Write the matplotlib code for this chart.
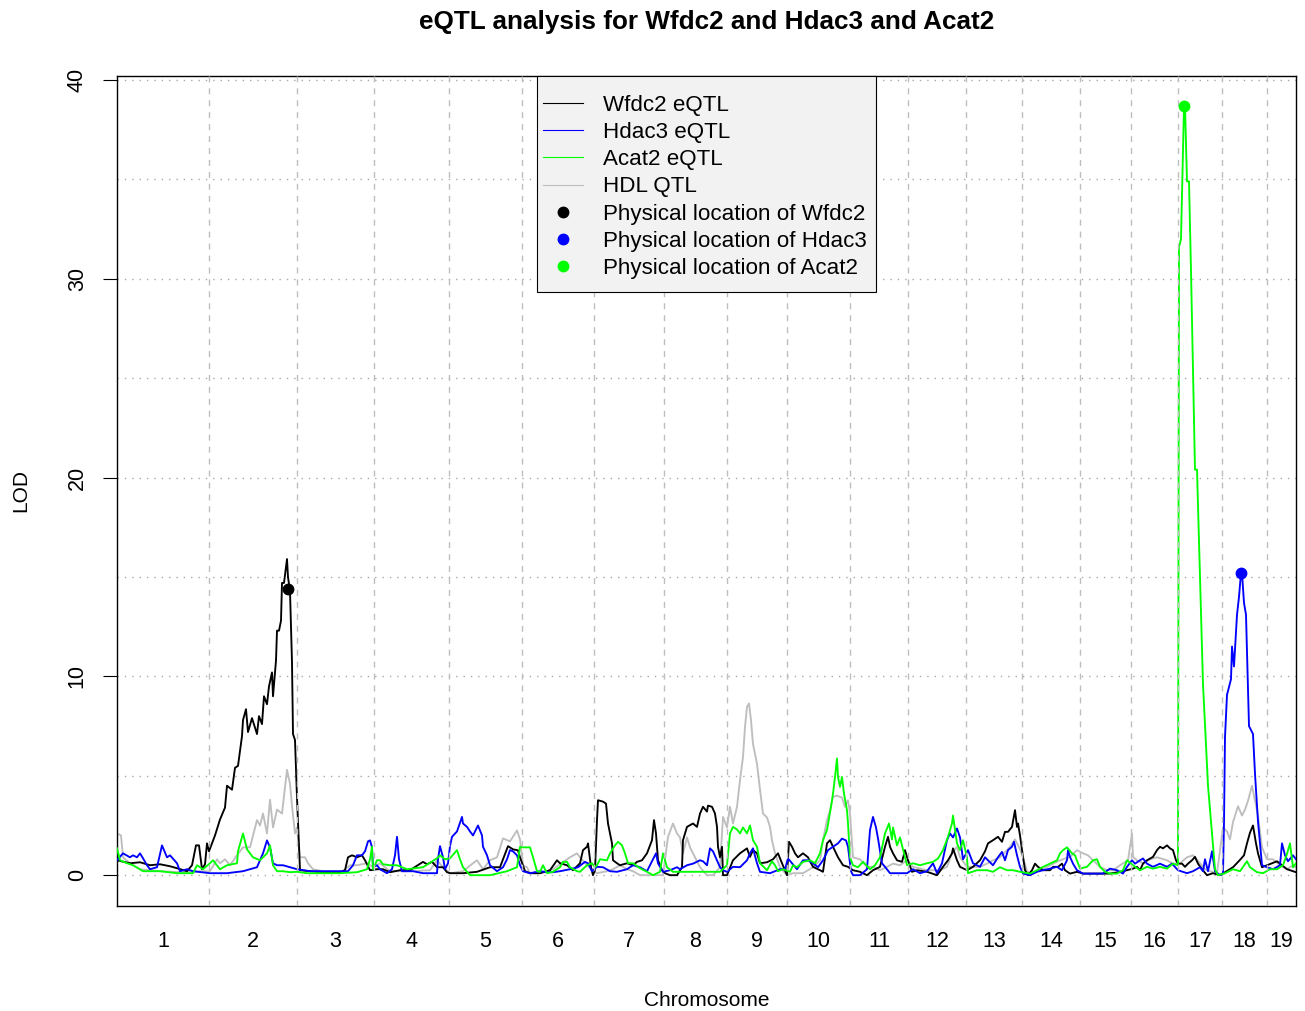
import numpy as np
import matplotlib
matplotlib.use("Agg")
import matplotlib.pyplot as plt
from matplotlib.lines import Line2D
from matplotlib.patches import Rectangle

plt.rcParams['font.family'] = ['Liberation Sans', 'DejaVu Sans']

# ---------------- data ----------------
chromosomes = [str(i) for i in range(1, 20)]
chr_lengths = [92, 88, 77, 75, 73, 72, 70, 63, 60, 63, 58, 58, 56, 58, 51, 47, 44, 45, 29]

# Wfdc2 eQTL (genome position, LOD)
wfdc2_pos = [0, 13, 23, 33, 43, 53, 60, 70, 75, 79, 82, 85, 88, 90, 92, 95, 98, 103, 108, 110,
             115, 118, 121, 125, 126, 129, 131, 135, 140, 142, 145, 147, 150, 152, 155, 156, 159, 160, 162, 164,
             165, 167, 170, 171, 173, 175, 176, 178, 180, 183, 193, 206, 223, 228, 231, 235, 240, 245, 248, 253,
             260, 266, 273, 283, 293, 306, 310, 315, 320, 326, 330, 333, 346, 360, 373, 383, 391, 396, 401, 403,
             408, 413, 423, 433, 440, 443, 450, 456, 463, 466, 470, 471, 474, 476, 478, 480, 481, 486, 489, 491,
             495, 496, 500, 503, 510, 516, 520, 525, 530, 535, 537, 539, 541, 545, 548, 553, 560, 565, 566, 570,
             576, 580, 583, 586, 590, 591, 595, 598, 600, 601, 603, 605, 606, 610, 616, 623, 630, 633, 636, 640,
             643, 650, 656, 661, 665, 670, 672, 675, 678, 681, 686, 691, 696, 703, 706, 710, 713, 716, 721, 726,
             731, 736, 743, 750, 756, 763, 768, 771, 773, 776, 780, 785, 788, 791, 795, 800, 810, 820, 826, 831,
             835, 836, 840, 843, 850, 856, 863, 868, 871, 876, 881, 885, 888, 891, 895, 898, 900, 901, 903, 906,
             908, 911, 915, 918, 921, 926, 933, 936, 941, 945, 948, 953, 960, 966, 973, 983, 993, 1003, 1010, 1016,
             1020, 1023, 1026, 1030, 1036, 1040, 1043, 1046, 1050, 1053, 1056, 1059, 1061, 1065, 1068, 1071, 1075, 1078, 1081, 1085,
             1090, 1096, 1103, 1108, 1116, 1123, 1127, 1130, 1133, 1136, 1139, 1141, 1145, 1150, 1160, 1165, 1170, 1176, 1179]
wfdc2_lod = [0.75, 0.6, 0.65, 0.5, 0.55, 0.45, 0.35, 0.2, 0.5, 1.5, 1.5, 0.3, 0.55, 1.6, 1.2, 1.6, 2.0, 2.8, 3.4, 4.5,
             4.3, 5.4, 5.5, 7.0, 7.8, 8.35, 7.2, 7.9, 7.1, 8.0, 7.6, 9.0, 8.6, 9.5, 10.2, 9.0, 10.8, 12.3, 12.3, 12.8,
             14.7, 14.7, 15.9, 15.0, 14.3, 10.7, 7.1, 6.8, 3.9, 0.25, 0.2, 0.15, 0.15, 0.25, 0.9, 1.0, 0.9, 1.0, 0.75, 0.25,
             0.3, 0.3, 0.15, 0.25, 0.25, 0.67, 0.55, 0.67, 0.4, 0.4, 0.15, 0.1, 0.1, 0.17, 0.4, 0.4, 1.46, 1.3, 1.25, 0.9,
             0.2, 0.1, 0.1, 0.25, 0.75, 0.6, 0.5, 0.25, 0.6, 1.26, 1.43, 1.6, 0.4, 0.0, 0.25, 2.77, 3.77, 3.7, 3.6, 2.6,
             1.6, 0.75, 0.6, 0.5, 0.6, 0.5, 0.67, 0.75, 1.1, 1.76, 2.77, 2.1, 0.75, 0.25, 0.1, 0.0, 0.0, 0.4, 1.76, 2.43,
             2.6, 2.43, 3.1, 3.44, 3.2, 3.5, 3.44, 3.1, 2.43, 1.43, 0.9, 1.43, 0.0, 0.0, 0.75, 1.1, 1.35, 0.92, 1.26, 1.1,
             0.6, 0.65, 0.8, 1.1, 0.6, 0.0, 1.68, 1.43, 1.1, 0.9, 1.1, 0.9, 0.42, 0.25, 0.17, 1.6, 1.76, 1.43, 0.9, 0.5,
             0.42, 0.25, 0.17, 0.0, 0.25, 0.42, 1.43, 1.93, 1.43, 1.1, 0.75, 0.67, 1.26, 0.75, 0.17, 0.25, 0.17, 0.0, 0.42, 0.75,
             1.1, 1.35, 0.75, 0.42, 0.25, 0.42, 0.75, 1.2, 1.6, 1.76, 1.93, 1.68, 2.18, 2.18, 2.43, 3.27, 2.43, 2.6, 2.0, 0.92,
             0.25, 0.0, 0.25, 0.58, 0.42, 0.25, 0.25, 0.42, 0.42, 0.58, 0.25, 0.08, 0.17, 0.08, 0.08, 0.08, 0.08, 0.17, 0.25, 0.33,
             0.42, 0.25, 0.58, 0.75, 0.92, 1.26, 1.43, 1.35, 1.5, 1.35, 1.26, 0.75, 0.58, 0.58, 0.42, 0.58, 0.75, 0.92, 0.58, 0.3,
             0.0, 0.1, 0.0, 0.15, 0.4, 0.77, 1.0, 1.6, 2.14, 2.5, 1.6, 1.1, 0.4, 0.5, 0.7, 0.5, 0.3, 0.2, 0.15]

# Hdac3 eQTL
hdac3_pos = [0, 6, 13, 16, 20, 23, 26, 30, 33, 40, 45, 50, 53, 60, 63, 70, 76, 93, 110, 126,
             140, 146, 150, 153, 156, 160, 166, 173, 180, 193, 223, 231, 236, 240, 245, 248, 251, 253, 255, 256,
             260, 263, 270, 275, 278, 280, 282, 285, 296, 306, 320, 321, 323, 326, 328, 331, 333, 335, 340, 345,
             346, 350, 353, 356, 360, 361, 365, 366, 370, 373, 380, 386, 390, 393, 396, 400, 403, 406, 413, 423,
             430, 436, 443, 453, 461, 468, 471, 475, 480, 486, 493, 500, 510, 516, 523, 530, 536, 539, 541, 546,
             553, 560, 563, 570, 576, 583, 586, 590, 593, 596, 600, 603, 606, 610, 616, 623, 630, 633, 636, 640,
             643, 653, 663, 668, 671, 675, 680, 686, 691, 696, 701, 706, 711, 716, 721, 725, 729, 731, 734, 736,
             743, 750, 753, 756, 759, 761, 765, 768, 773, 783, 790, 796, 803, 810, 816, 820, 825, 830, 833, 836,
             840, 843, 846, 851, 856, 863, 868, 871, 876, 881, 885, 888, 891, 895, 897, 900, 903, 906, 913, 920,
             926, 933, 940, 945, 950, 951, 953, 956, 960, 966, 976, 986, 993, 1000, 1006, 1010, 1015, 1018, 1023, 1026,
             1030, 1036, 1043, 1050, 1055, 1061, 1070, 1076, 1083, 1086, 1088, 1091, 1095, 1098, 1103, 1106, 1107, 1108, 1110, 1114,
             1115, 1117, 1120, 1122, 1124, 1125, 1127, 1129, 1132, 1136, 1138, 1141, 1145, 1150, 1156, 1163, 1165, 1168, 1171, 1176, 1179]
hdac3_lod = [0.75, 1.1, 0.9, 1.0, 0.9, 1.1, 0.85, 0.5, 0.3, 0.4, 1.5, 0.9, 1.0, 0.6, 0.2, 0.3, 0.2, 0.1, 0.1, 0.2,
             0.4, 1.1, 1.75, 1.4, 0.6, 0.5, 0.5, 0.4, 0.3, 0.2, 0.2, 0.2, 0.5, 1.0, 1.0, 1.2, 1.7, 1.75, 1.4, 0.4,
             0.5, 0.3, 0.1, 0.3, 1.0, 1.93, 0.8, 0.2, 0.2, 0.1, 0.1, 0.8, 1.46, 0.9, 0.3, 0.6, 1.46, 1.93, 2.2, 2.93,
             2.6, 2.43, 2.2, 2.0, 2.4, 2.5, 2.0, 1.43, 1.0, 0.5, 0.2, 0.4, 0.8, 1.26, 1.2, 1.0, 0.5, 0.2, 0.1, 0.2,
             0.15, 0.15, 0.2, 0.3, 0.4, 0.67, 0.6, 0.2, 0.42, 0.4, 0.2, 0.17, 0.3, 0.5, 0.4, 0.2, 0.8, 1.1, 0.6, 0.17,
             0.25, 0.4, 0.3, 0.5, 0.58, 0.75, 0.7, 0.5, 1.35, 1.2, 0.75, 0.4, 0.25, 0.17, 0.42, 0.4, 0.75, 1.1, 1.35, 0.6,
             0.17, 0.1, 0.3, 0.3, 0.84, 0.6, 0.3, 0.75, 0.75, 0.6, 0.4, 0.75, 1.26, 1.43, 1.6, 1.84, 1.75, 1.43, 0.2, 0.0,
             0.0, 0.3, 2.27, 2.93, 2.4, 1.85, 0.6, 0.42, 0.1, 0.1, 0.1, 0.3, 0.1, 0.2, 0.6, 0.1, 0.6, 1.76, 2.1, 1.9,
             2.35, 1.9, 0.8, 1.26, 0.6, 0.42, 0.9, 0.75, 0.5, 0.9, 1.17, 0.75, 1.26, 1.43, 1.68, 1.0, 0.42, 0.08, 0.0, 0.17,
             0.25, 0.33, 0.42, 0.25, 0.75, 1.26, 0.92, 0.58, 0.25, 0.08, 0.08, 0.08, 0.33, 0.25, 0.08, 0.42, 0.75, 0.58, 0.75, 0.84,
             0.58, 0.42, 0.58, 0.42, 0.58, 0.25, 0.1, 0.2, 0.4, 0.2, 0.8, 0.2, 1.2, 0.2, 0.0, 0.1, 2.67, 6.95, 9.07, 9.86,
             11.5, 10.5, 13.1, 14.0, 15.2, 15.2, 13.7, 13.1, 7.5, 7.1, 5.1, 2.7, 0.5, 0.4, 0.3, 0.5, 1.6, 1.0, 0.7, 1.0, 0.8]

# Acat2 eQTL
acat2_pos = [0, 3, 10, 16, 26, 43, 60, 76, 80, 86, 93, 96, 103, 110, 120, 121, 126, 130, 133, 136,
             143, 150, 153, 156, 160, 166, 173, 180, 190, 206, 223, 240, 250, 253, 255, 256, 260, 263, 266, 273,
             280, 290, 306, 320, 323, 328, 333, 340, 343, 346, 353, 360, 373, 390, 400, 403, 406, 413, 416, 420,
             423, 426, 430, 436, 443, 446, 450, 453, 460, 463, 470, 475, 478, 480, 483, 490, 493, 498, 501, 505,
             508, 511, 516, 523, 530, 536, 543, 546, 550, 556, 563, 583, 603, 610, 613, 616, 620, 623, 626, 630,
             633, 636, 640, 643, 650, 655, 658, 661, 666, 673, 676, 680, 686, 693, 698, 703, 706, 710, 714, 716,
             718, 720, 721, 723, 725, 727, 730, 731, 733, 736, 741, 746, 753, 758, 763, 768, 772, 775, 776, 780,
             783, 786, 790, 796, 803, 810, 816, 821, 826, 831, 835, 836, 838, 840, 843, 846, 850, 851, 860, 870,
             876, 883, 890, 896, 903, 913, 920, 926, 933, 940, 943, 946, 950, 955, 958, 963, 970, 976, 980, 983,
             988, 993, 1000, 1006, 1010, 1016, 1023, 1030, 1036, 1043, 1050, 1056, 1061, 1062, 1064, 1067, 1068, 1070, 1072, 1074,
             1078, 1080, 1086, 1091, 1094, 1098, 1101, 1108, 1116, 1123, 1130, 1133, 1140, 1146, 1153, 1160, 1166, 1170, 1173, 1176, 1179]
acat2_lod = [1.35, 0.75, 0.6, 0.5, 0.2, 0.2, 0.1, 0.1, 0.5, 0.3, 0.6, 0.75, 0.3, 0.5, 0.6, 1.2, 2.1, 1.3, 1.1, 0.9,
             0.75, 1.1, 1.5, 0.5, 0.2, 0.2, 0.15, 0.17, 0.1, 0.1, 0.1, 0.15, 0.3, 0.8, 1.43, 0.3, 0.75, 0.75, 0.55, 0.5,
             0.5, 0.3, 0.4, 0.85, 1.0, 0.8, 0.85, 1.26, 0.8, 0.4, 0.0, 0.0, 0.0, 0.2, 0.4, 1.43, 1.4, 1.4, 0.9, 0.2,
             0.17, 0.5, 0.1, 0.17, 0.4, 0.67, 0.67, 0.4, 0.2, 0.17, 0.5, 0.6, 0.4, 0.5, 0.8, 0.75, 1.1, 1.5, 1.68, 1.5,
             1.1, 0.6, 0.6, 0.35, 0.17, 0.0, 0.17, 1.1, 0.4, 0.17, 0.17, 0.17, 0.17, 0.5, 2.1, 2.43, 2.3, 2.1, 2.4, 2.1,
             2.5, 1.76, 1.43, 0.6, 0.25, 0.7, 0.5, 0.2, 0.3, 0.17, 0.5, 0.4, 0.67, 0.75, 0.6, 1.1, 1.76, 2.27, 3.44, 4.1,
             4.94, 5.87, 4.94, 4.44, 4.94, 4.1, 3.27, 2.6, 0.9, 0.5, 0.4, 0.67, 0.3, 0.5, 0.9, 2.1, 2.6, 1.8, 2.4, 1.5,
             1.9, 1.3, 0.5, 0.6, 0.5, 0.6, 0.67, 0.84, 1.26, 1.93, 2.6, 3.0, 2.3, 1.6, 1.26, 1.76, 0.9, 0.1, 0.25, 0.25,
             0.17, 0.4, 0.25, 0.25, 0.17, 0.08, 0.25, 0.42, 0.58, 0.75, 1.1, 1.26, 1.4, 1.1, 1.0, 0.33, 0.42, 0.75, 0.8, 0.42,
             0.17, 0.08, 0.08, 0.25, 0.75, 0.5, 0.25, 0.42, 0.33, 0.42, 0.33, 0.58, 0.5, 31.6, 32.0, 38.7, 38.7, 34.9, 34.9, 30.4,
             20.4, 20.4, 9.6, 4.5, 2.7, 0.3, 0.0, 0.1, 0.3, 0.2, 0.7, 0.4, 0.15, 0.1, 0.3, 0.3, 0.5, 1.07, 1.6, 0.4, 0.6]

# HDL QTL
hdl_pos = [0, 4, 6, 13, 23, 43, 63, 83, 93, 100, 103, 108, 113, 120, 126, 133, 140, 143, 146, 150,
           153, 156, 160, 165, 168, 170, 173, 175, 178, 180, 183, 188, 191, 196, 206, 226, 233, 240, 250, 256,
           263, 273, 293, 313, 320, 326, 333, 346, 356, 360, 366, 373, 380, 386, 393, 400, 403, 406, 410, 413,
           423, 436, 453, 460, 463, 470, 480, 490, 496, 503, 510, 516, 523, 536, 546, 551, 556, 560, 563, 566,
           570, 573, 576, 583, 590, 596, 603, 606, 610, 613, 616, 620, 623, 626, 628, 630, 632, 634, 636, 640,
           643, 646, 650, 653, 655, 658, 663, 670, 676, 686, 696, 703, 706, 710, 713, 716, 720, 725, 728, 731,
           733, 736, 743, 750, 756, 763, 770, 776, 783, 790, 796, 810, 823, 830, 835, 840, 843, 850, 856, 863,
           870, 876, 883, 890, 893, 898, 903, 906, 910, 913, 923, 930, 943, 953, 960, 966, 971, 976, 983, 990,
           996, 1006, 1011, 1015, 1016, 1020, 1026, 1033, 1040, 1050, 1056, 1063, 1070, 1076, 1083, 1088, 1093, 1100, 1106, 1110,
           1113, 1116, 1121, 1125, 1128, 1131, 1135, 1138, 1141, 1145, 1150, 1156, 1163, 1170, 1176, 1179]
hdl_lod = [2.1, 2.0, 0.9, 0.6, 0.3, 0.2, 0.15, 0.2, 0.2, 0.8, 0.6, 0.8, 0.5, 1.0, 1.4, 1.4, 2.77, 2.5, 3.1, 2.1,
           3.8, 2.4, 3.3, 3.1, 4.4, 5.3, 4.6, 3.5, 2.1, 2.4, 0.9, 0.9, 0.6, 0.3, 0.2, 0.2, 0.5, 0.5, 0.6, 0.4,
           0.6, 0.2, 0.2, 0.25, 0.75, 0.4, 0.1, 0.2, 0.6, 0.75, 0.3, 0.75, 0.9, 1.85, 1.7, 2.25, 1.8, 0.5, 0.4, 0.1,
           0.1, 0.3, 0.9, 1.1, 0.9, 0.5, 0.1, 0.2, 0.3, 0.5, 0.3, 0.2, 0.0, 0.0, 0.0, 1.93, 2.6, 2.1, 1.9, 1.1,
           1.9, 1.4, 1.1, 0.4, 0.0, 0.0, 0.4, 2.93, 2.4, 3.44, 2.6, 3.44, 4.78, 5.95, 7.46, 8.47, 8.64, 7.8, 6.6, 5.6,
           4.3, 3.1, 2.9, 2.43, 1.76, 1.1, 0.4, 0.0, 0.1, 0.1, 0.4, 0.75, 1.76, 2.77, 3.27, 3.94, 4.0, 3.9, 3.44, 3.77,
           3.1, 0.9, 0.8, 0.42, 0.42, 0.25, 0.42, 0.58, 0.5, 0.75, 0.42, 0.25, 0.25, 0.42, 1.1, 1.43, 0.9, 0.42, 0.42, 0.42,
           0.58, 0.75, 0.9, 1.26, 1.43, 1.8, 1.3, 0.9, 0.2, 0.1, 0.25, 0.42, 0.75, 0.92, 1.26, 1.1, 1.0, 0.75, 0.42, 0.25,
           0.25, 0.6, 0.75, 2.1, 0.92, 0.75, 0.6, 0.8, 0.9, 0.75, 0.58, 0.6, 0.9, 1.0, 0.6, 0.3, 0.2, 0.1, 2.4, 2.2,
           1.8, 2.67, 3.47, 3.0, 3.3, 3.74, 4.5, 3.74, 3.0, 1.4, 0.8, 0.8, 0.5, 0.3, 0.5, 0.4]

# Physical gene locations (genome position, LOD)
gene_names = ['Wfdc2', 'Hdac3', 'Acat2']
gene_pos = [171, 1124, 1067]
gene_lod = [14.4, 15.2, 38.7]

series_labels = ['Wfdc2 eQTL', 'Hdac3 eQTL', 'Acat2 eQTL', 'HDL QTL']
series_colors = ['black', '#0000FF', '#00FF00', '#BEBEBE']

# ---------------- figure ----------------
W, H, DPI = 1305, 1011, 100
fig = plt.figure(figsize=(W / DPI, H / DPI), dpi=DPI)
ax_l, ax_r, ax_t, ax_b = 117, 1296, 76, 906
AW, AH = ax_r - ax_l, ax_b - ax_t
ax = fig.add_axes([ax_l / W, 1 - ax_b / H, AW / W, AH / H])

def px2ax(x, y):
    return (x - ax_l) / AW, (ax_b - y) / AH

ends = np.cumsum(chr_lengths)
starts = ends - np.array(chr_lengths)
mids = (starts + ends) / 2.0

ax.set_xlim(0, ends[-1])
ax.set_ylim(-1.55, 40.2)

# horizontal dotted gridlines
for yv in range(0, 41, 5):
    ax.axhline(yv, color='#A8A8A8', lw=1.0, linestyle=(0, (1, 4.3)), zorder=1)

# data lines
LW = 1.35
ax.plot(hdl_pos, hdl_lod, color=series_colors[3], lw=LW, zorder=2)
ax.plot(wfdc2_pos, wfdc2_lod, color=series_colors[0], lw=LW, zorder=3)
ax.plot(hdac3_pos, hdac3_lod, color=series_colors[1], lw=LW, zorder=4)
ax.plot(acat2_pos, acat2_lod, color=series_colors[2], lw=LW, zorder=5)

# chromosome boundaries (dashed)
for xb in ends[:-1]:
    ax.axvline(xb, color='#BEBEBE', lw=1.0, linestyle=(0, (4.3, 4.3)), zorder=6)

# gene location dots
for gp, gl, c in zip(gene_pos, gene_lod, series_colors[:3]):
    ax.plot([gp], [gl], 'o', color=c, markersize=7.5, zorder=7)

# axes styling
for s in ax.spines.values():
    s.set_linewidth(1.0)
    s.set_color('black')

ax.set_yticks([0, 10, 20, 30, 40])
ax.set_yticklabels(['0', '10', '20', '30', '40'])
ax.tick_params(axis='y', direction='out', length=10, width=0.8, pad=11, labelsize=15.5)
for lab in ax.get_yticklabels():
    lab.set_rotation(90)
    lab.set_va('center')
    lab.set_ha('right')

ax.set_xticks(mids)
ax.set_xticklabels(chromosomes)
ax.tick_params(axis='x', length=0, pad=18, labelsize=15.5)

ax.set_xlabel('Chromosome', fontsize=15.0)
ax.xaxis.set_label_coords(0.5, -(1000 - ax_b) / AH)
ax.xaxis.label.set_va('center')
ax.set_ylabel('LOD', fontsize=15.0)
ax.yaxis.set_label_coords(-(ax_l - 21) / AW, 0.5)
ax.yaxis.label.set_va('center')
ax.yaxis.label.set_ha('center')

ax.set_title('eQTL analysis for Wfdc2 and Hdac3 and Acat2', fontsize=18.8, fontweight='bold',
             y=1 + (ax_t - 22) / AH, va='center', pad=0)

# legend box (frame drawn separately to match R's legend insets)
bx0, by0 = px2ax(537, 292)
bx1, by1 = px2ax(876, 76)
ax.add_patch(Rectangle((bx0, by0), bx1 - bx0, by1 - by0, transform=ax.transAxes,
                       facecolor='#F2F2F2', edgecolor='black', lw=0.8, zorder=9, clip_on=False))

handles = [Line2D([0], [0], color=c, lw=0.8) for c in series_colors]
handles += [Line2D([0], [0], color=c, marker='o', linestyle='none', markersize=7.5) for c in series_colors[:3]]
labels = series_labels + ['Physical location of ' + g for g in gene_names]
leg = ax.legend(handles, labels, loc='upper left', bbox_to_anchor=px2ax(543, 95), borderaxespad=0,
                fontsize=16.1, frameon=False, labelspacing=0.275, handlelength=1.79,
                handletextpad=0.89, borderpad=0)
leg.set_zorder(10)

fig.savefig('out.png', dpi=DPI)
